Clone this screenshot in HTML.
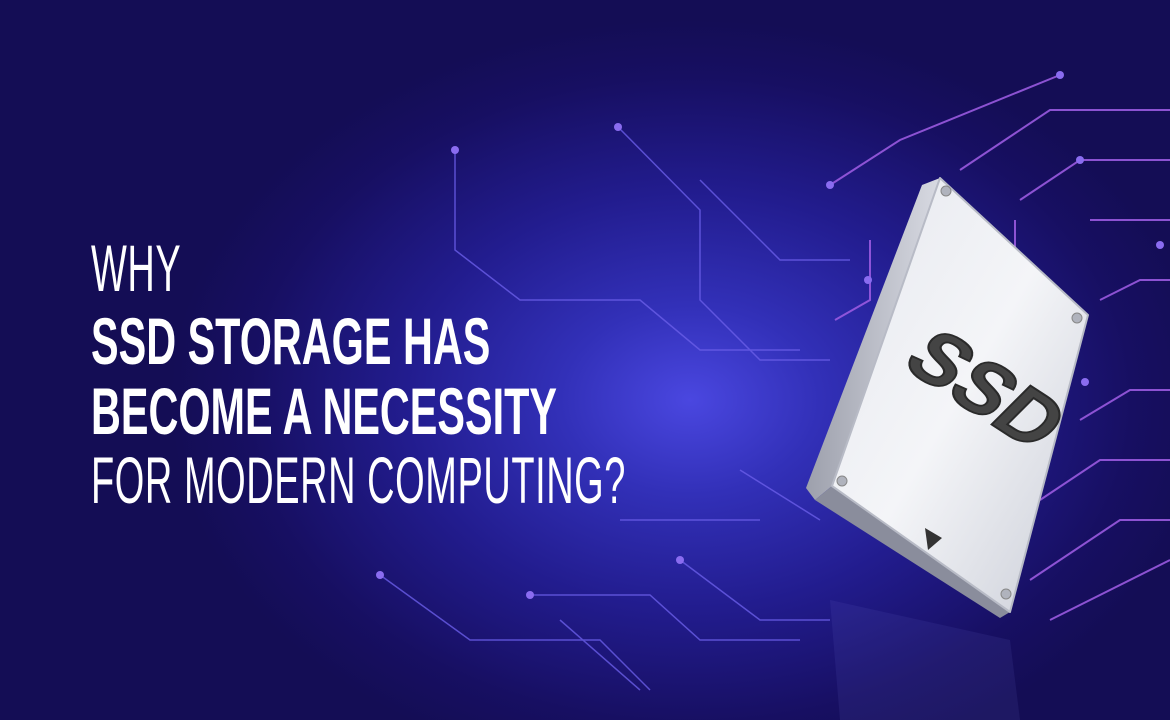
<!DOCTYPE html>
<html><head><meta charset="utf-8"><style>
html,body{margin:0;padding:0}
body{width:1170px;height:720px;overflow:hidden;position:relative;
background:radial-gradient(ellipse 520px 380px at 690px 400px,#4a47e0 0%,#3230b8 25%,#221c8e 55%,#170f62 85%,#140d55 100%);}
svg{position:absolute;left:0;top:0}
.t{position:absolute;left:91px;color:#fff;font-family:"Liberation Sans Narrow","Liberation Sans",sans-serif;white-space:nowrap;transform-origin:0 0;line-height:1}
.thin{font-weight:400;font-size:66px;transform:scaleX(0.575);letter-spacing:1px}
.bold{font-weight:700;font-size:66px;transform:scaleX(0.627)}
</style></head><body>
<svg width="1170" height="720" viewBox="0 0 1170 720">
<defs>
<linearGradient id="face" x1="0" y1="0" x2="1" y2="1">
<stop offset="0" stop-color="#e6e8ee"/><stop offset="0.5" stop-color="#f4f5f8"/><stop offset="1" stop-color="#c9ccd6"/></linearGradient>
<linearGradient id="side" x1="0" y1="0" x2="1" y2="0">
<stop offset="0" stop-color="#9da0ac"/><stop offset="1" stop-color="#d8dae2"/></linearGradient>
</defs>
<g stroke="#6a5ee8" stroke-width="1.5" fill="none" opacity="0.8">
<path d="M455 150 V250 L520 300 H640 L700 350 H800"/>
<path d="M618 127 L700 210 V300 L760 360 H830"/>
<path d="M700 180 L780 260 H850"/>
<path d="M380 575 L470 640 H600 L650 690"/>
<path d="M530 595 H650 L700 640 H800"/>
<path d="M560 620 L640 690"/>
<path d="M680 560 L760 620 H830"/>
<path d="M620 520 H760"/>
<path d="M740 470 L820 520"/>
</g>
<g stroke="#9a5ae0" stroke-width="2" fill="none" opacity="0.9">
<path d="M830 185 L900 140 L1060 75"/>
<path d="M960 170 L1050 110 H1170"/>
<path d="M1020 200 L1080 160 H1170"/>
<path d="M1015 220 V270 L1060 300"/>
<path d="M1090 220 H1170"/>
<path d="M1100 300 L1140 280 H1170"/>
<path d="M1080 420 L1130 390 H1170"/>
<path d="M1040 500 L1100 460 H1170"/>
<path d="M1030 580 L1120 520 H1170"/>
<path d="M1050 620 L1170 560"/>
<path d="M870 240 V300 L835 320"/>
</g>
<g fill="#8a6cf0">
<circle cx="455" cy="150" r="4"/><circle cx="618" cy="127" r="4"/><circle cx="380" cy="575" r="4"/><circle cx="530" cy="595" r="4"/>
<circle cx="830" cy="185" r="4"/><circle cx="1060" cy="75" r="4"/><circle cx="1080" cy="160" r="4"/><circle cx="1160" cy="245" r="4"/><circle cx="1085" cy="382" r="4"/><circle cx="868" cy="280" r="4"/><circle cx="680" cy="560" r="4"/>
</g>
<polygon points="830,600 1010,640 1020,720 840,720" fill="#6a6ad0" opacity="0.12"/>
<polygon points="922,185 940,178 832,486 815,500 806,488" fill="url(#side)"/>
<polygon points="815,500 832,486 1010,612 1000,618" fill="#8a8d9c"/>
<polygon points="940,178 1088,315 1010,612 832,486" fill="url(#face)" stroke="#b8bbc6" stroke-width="2" stroke-linejoin="round"/>
<g fill="#b0b3bd" stroke="#888" stroke-width="1">
<circle cx="946" cy="191" r="5"/><circle cx="1077" cy="318" r="5"/><circle cx="842" cy="481" r="5"/><circle cx="1006" cy="594" r="5"/></g>
<polygon points="925,528 942,538 928,550" fill="#333"/>
<text x="0" y="0" transform="translate(900,365) rotate(33) skewX(-12)" font-family="Liberation Sans,sans-serif" font-weight="700" font-size="78" fill="#444" stroke="#2a2a2a" stroke-width="2">SSD</text>
</svg>
<div class="t thin" style="top:235px">WHY</div>
<div class="t bold" style="top:308px">SSD STORAGE HAS</div>
<div class="t bold" style="top:378px">BECOME A NECESSITY</div>
<div class="t thin" style="top:447px">FOR MODERN COMPUTING?</div>
</body></html>
